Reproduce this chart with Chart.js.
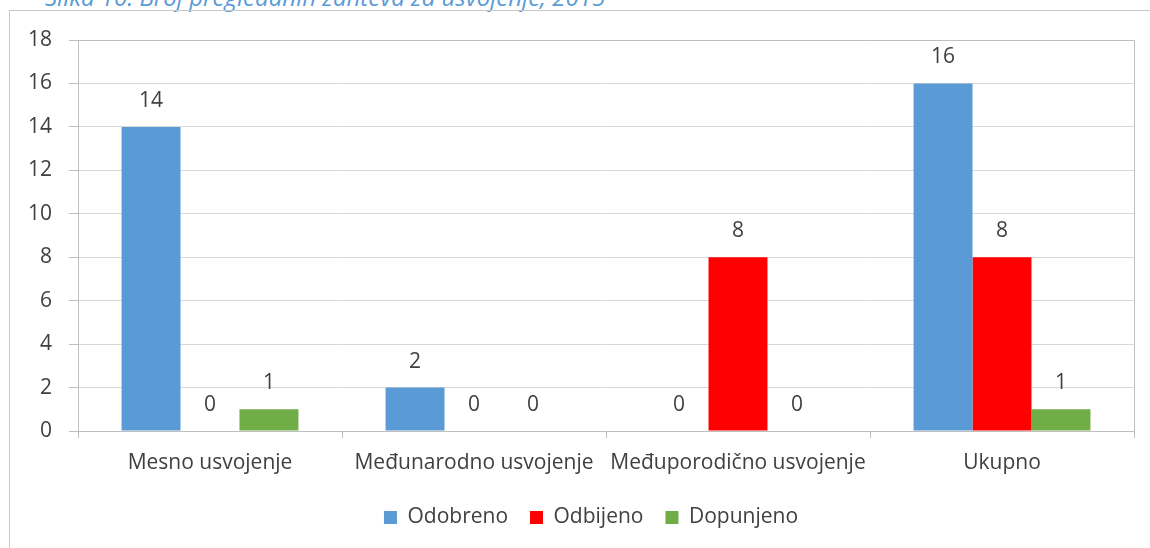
<!DOCTYPE html>
<html>
<head>
<meta charset="utf-8">
<script src="https://cdn.jsdelivr.net/npm/chart.js@4"></script>
<style>
    body { margin: 0; width: 1150px; height: 548px; overflow: hidden; background: #fff; position: relative; }
    .naslov { position: absolute; left: 45px; top: -20px; font: italic 24px "Open Sans"; color: #5b9bd5; white-space: nowrap; }
    .okvir { position: absolute; left: 9px; top: 10px; width: 1200px; height: 600px; border: 1px solid #c9c9c9; }
    .grafik { position: absolute; left: 0; top: 0; width: 1150px; height: 548px; }
</style>
</head>
<body>
<div class="naslov">Slika 10: Broj pregledanih zahteva za usvojenje, 2015</div>
<div class="okvir"></div>
<div class="grafik"><canvas id="myChart"></canvas></div>
<script>
var kategorije = ['Mesno usvojenje', 'Međunarodno usvojenje', 'Međuporodično usvojenje', 'Ukupno'];
var odobreno = [14, 2, 0, 16];
var odbijeno = [0, 0, 8, 8];
var dopunjeno = [1, 0, 0, 1];
var yTicks = [0, 2, 4, 6, 8, 10, 12, 14, 16, 18];

var tekstBoja = '#404040';
var font = 'Open Sans';
var velicina = 21;

// okvir oko oblasti grafika
var okvirPlugin = {
    id: 'okvir',
    afterDraw: function (chart) {
        var a = chart.chartArea;
        var ctx = chart.ctx;
        ctx.save();
        ctx.strokeStyle = '#bfbfbf';
        ctx.lineWidth = 1;
        ctx.beginPath();
        ctx.moveTo(a.left, a.top + 0.5);
        ctx.lineTo(a.right + 0.5, a.top + 0.5);
        ctx.lineTo(a.right + 0.5, a.bottom);
        ctx.stroke();
        ctx.restore();
    }
};

// legenda malo udesno, kao u originalu
var legendaPomak = {
    id: 'legendaPomak',
    afterLayout: function (chart) {
        chart.legend.left += 24;
        chart.legend.right += 24;
    }
};

// vrednosti iznad stubova
var vrednostiPlugin = {
    id: 'vrednosti',
    afterDatasetsDraw: function (chart) {
        var ctx = chart.ctx;
        ctx.save();
        ctx.font = velicina + 'px "' + font + '"';
        ctx.fillStyle = tekstBoja;
        ctx.textAlign = 'center';
        ctx.textBaseline = 'middle';
        chart.data.datasets.forEach(function (ds, i) {
            chart.getDatasetMeta(i).data.forEach(function (el, j) {
                ctx.fillText(ds.data[j], el.x, el.y - 26);
            });
        });
        ctx.restore();
    }
};

var ctx = document.getElementById('myChart');
new Chart(ctx, {
    type: 'bar',
    data: {
        labels: kategorije,
        datasets: [
            { label: 'Odobreno', data: odobreno, backgroundColor: '#5b9bd5' },
            { label: 'Odbijeno', data: odbijeno, backgroundColor: '#ff0000' },
            { label: 'Dopunjeno', data: dopunjeno, backgroundColor: '#70ad47' }
        ]
    },
    options: {
        responsive: true,
        maintainAspectRatio: false,
        animation: false,
        datasets: {
            bar: { barPercentage: 1, categoryPercentage: 0.67 }
        },
        layout: { padding: { top: 40, right: 16, left: 0, bottom: 10 } },
        plugins: {
            tooltip: { enabled: false },
            legend: {
                position: 'bottom',
                labels: {
                    boxWidth: 13,
                    boxHeight: 13,
                    padding: 22,
                    color: tekstBoja,
                    font: { family: font, size: velicina }
                }
            }
        },
        scales: {
            x: {
                afterFit: function (scale) { scale.height = 54; },
                grid: { drawOnChartArea: false, drawTicks: true, tickLength: 7, color: '#bfbfbf', offset: true },
                border: { color: '#bfbfbf' },
                ticks: { color: tekstBoja, padding: 12, font: { family: font, size: velicina }, maxRotation: 0 }
            },
            y: {
                min: 0,
                max: 18,
                afterFit: function (scale) { scale.width = 78; },
                afterBuildTicks: function (scale) {
                    scale.ticks = yTicks.map(function (v) { return { value: v }; });
                },
                grid: { color: '#d9d9d9', tickColor: '#bfbfbf', tickLength: 9 },
                border: { color: '#bfbfbf' },
                ticks: { color: tekstBoja, padding: 17, font: { family: font, size: velicina } }
            }
        }
    },
    plugins: [okvirPlugin, legendaPomak, vrednostiPlugin]
});
</script>
</body>
</html>
